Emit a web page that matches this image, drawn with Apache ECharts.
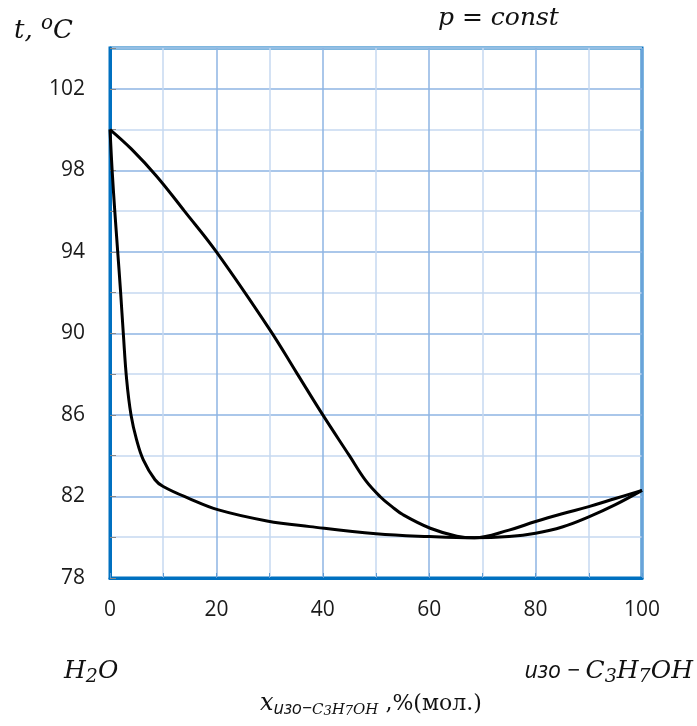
<!DOCTYPE html>
<html><head><meta charset="utf-8">
<script src="https://cdn.jsdelivr.net/npm/echarts@6/dist/echarts.min.js"></script>
<style>html,body{margin:0;padding:0;background:#fff}#c{width:697px;height:726px}</style>
</head><body><div id="c"></div>
<script>
const xTicks = [0, 20, 40, 60, 80, 100];
const yTicks = [78, 82, 86, 90, 94, 98, 102];
// lower (boiling / liquid) curve
const liquidX = [0, 0.4, 0.9, 1.45, 2.0, 2.5, 3.13, 3.95, 5.0, 6.26, 8.46, 10, 14.7, 20.4, 29.5, 37.6, 50, 60, 68.5, 75, 80, 85, 90, 95, 100];
const liquidT = [100, 98, 96, 94, 92, 90, 87.73, 86.0, 84.78, 83.8, 82.82, 82.49, 81.92, 81.34, 80.8, 80.52, 80.17, 80.03, 79.97, 80.04, 80.2, 80.5, 81.0, 81.6, 82.3];
// upper (condensation / vapor) curve
const vaporX = [0, 4, 8.8, 14, 20, 30, 35, 40, 45, 48, 50.75, 53, 55.1, 60.2, 65.2, 68.5, 75, 80, 85, 90, 95, 100];
const vaporT = [100, 99.05, 97.7, 96, 94.0, 90.2, 88.1, 86.0, 84.0, 82.8, 82.0, 81.5, 81.1, 80.44, 80.05, 79.97, 80.35, 80.77, 81.15, 81.5, 81.9, 82.3];

const pairs = (xs, ys) => xs.map((x, i) => [x, ys[i]]);
const BLUE = '#0070c0';
const MATH = '"DejaVu Serif", serif';
const SANS = '"Open Sans", sans-serif';

const chart = echarts.init(document.getElementById('c'), null, {renderer: 'canvas'});
chart.setOption({
  animation: false,
  backgroundColor: '#fff',
  grid: {left: 110, right: 55, top: 48, bottom: 148, show: true, borderColor: BLUE, borderWidth: 3, backgroundColor: 'transparent'},
  xAxis: {
    type: 'value', min: 0, max: 100, interval: 10,
    axisLine: {show: true, lineStyle: {color: BLUE, width: 3}},
    axisTick: {show: true, inside: true, length: 5, lineStyle: {color: '#5b9bd5', width: 1}},
    axisLabel: {margin: 22, fontFamily: SANS, fontSize: 21, color: '#1a1a1a',
      formatter: v => xTicks.includes(v) ? String(v) : ''},
    splitLine: {show: true, lineStyle: {color: ['#8eb4e3', '#c6d9f0'], width: 1.5}}
  },
  yAxis: {
    type: 'value', min: 78, max: 104, interval: 2,
    axisLine: {show: true, lineStyle: {color: BLUE, width: 3}},
    axisTick: {show: true, inside: true, length: 6, lineStyle: {color: '#888', width: 1}},
    axisLabel: {margin: 25, fontFamily: SANS, fontSize: 21, color: '#1a1a1a',
      formatter: v => yTicks.includes(v) ? String(v) : ''},
    splitLine: {show: true, lineStyle: {color: ['#8eb4e3', '#c6d9f0'], width: 1.5}}
  },
  series: [
    {type: 'line', data: pairs(liquidX, liquidT), smooth: 0.4, showSymbol: false, lineStyle: {color: '#000', width: 3}},
    {type: 'line', data: pairs(vaporX, vaporT), smooth: 0.4, showSymbol: false, lineStyle: {color: '#000', width: 3}}
  ],
  graphic: [
    {type: 'text', left: 14, top: 14, style: {
      text: '{i|t, }{s|o}{i|C}',
      rich: {i: {fontFamily: MATH, fontStyle: 'italic', fontSize: 26, fill: '#111', lineHeight: 34},
             s: {fontFamily: MATH, fontStyle: 'italic', fontSize: 20, fill: '#111', verticalAlign: 'top', lineHeight: 22}}}},
    {type: 'text', left: 438, top: 6, style: {
      text: 'p = const', fontFamily: MATH, fontStyle: 'italic', fontSize: 25, fill: '#111'}},
    {type: 'text', left: 64, top: 659, style: {
      text: '{i|H}{sub|2}{i|O}',
      rich: {i: {fontFamily: MATH, fontStyle: 'italic', fontSize: 25, fill: '#111', lineHeight: 30},
             sub: {fontFamily: MATH, fontStyle: 'italic', fontSize: 19, fill: '#111', verticalAlign: 'bottom', lineHeight: 20}}}},
    {type: 'text', right: 4, top: 659, style: {
      text: '{c|изо − }{i|C}{sub|3}{i|H}{sub|7}{i|OH}',
      rich: {c: {fontFamily: SANS, fontStyle: 'italic', fontSize: 23, fill: '#111', lineHeight: 30},
             i: {fontFamily: MATH, fontStyle: 'italic', fontSize: 25, fill: '#111', lineHeight: 30},
             sub: {fontFamily: MATH, fontStyle: 'italic', fontSize: 19, fill: '#111', verticalAlign: 'bottom', lineHeight: 20}}}},
    {type: 'text', left: 260, top: 692, style: {
      text: '{x|x}{c|изо−}{m|C}{n|3}{m|H}{n|7}{m|OH}{r| ,%(мол.)}',
      rich: {x: {fontFamily: MATH, fontStyle: 'italic', fontSize: 24, fill: '#111', lineHeight: 28},
             c: {fontFamily: SANS, fontStyle: 'italic', fontSize: 18, fill: '#111', verticalAlign: 'bottom', lineHeight: 22},
             m: {fontFamily: MATH, fontStyle: 'italic', fontSize: 15, fill: '#111', verticalAlign: 'bottom', lineHeight: 20},
             n: {fontFamily: MATH, fontStyle: 'italic', fontSize: 13, fill: '#111', verticalAlign: 'bottom', lineHeight: 16},
             r: {fontFamily: MATH, fontSize: 22, fill: '#111', lineHeight: 28}}}}
  ]
});
</script></body></html>
